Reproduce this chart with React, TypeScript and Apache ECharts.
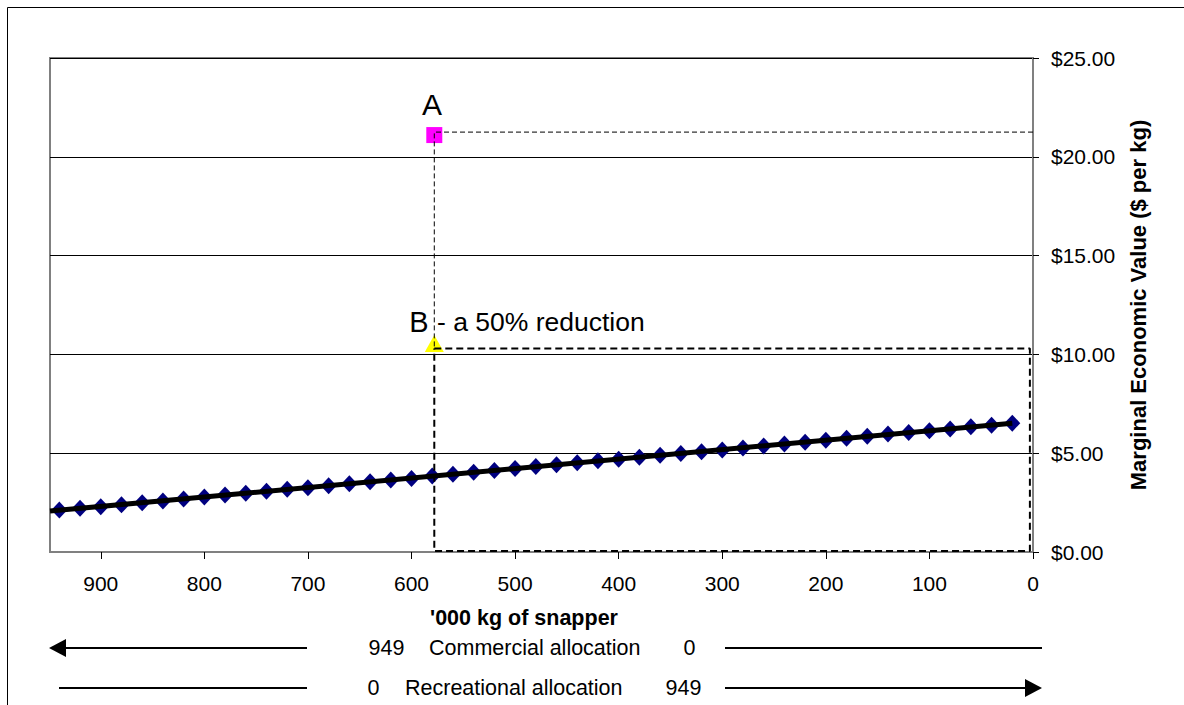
import React, { useEffect, useRef } from "react";
import * as echarts from "echarts";

// Commercial allocation ('000 kg) and marginal economic value ($ per kg)
const commercialKg = [
  940, 920, 900, 880, 860, 840, 820, 800, 780, 760, 740, 720, 700, 680, 660, 640,
  620, 600, 580, 560, 540, 520, 500, 480, 460, 440, 420, 400, 380, 360, 340,
  320, 300, 280, 260, 240, 220, 200, 180, 160, 140, 120, 100, 80, 60, 40, 20,
];
const marginalValue = [
  2.12, 2.21, 2.29, 2.39, 2.49, 2.58, 2.68, 2.78, 2.88, 2.97, 3.07, 3.17, 3.25, 3.35, 3.45, 3.55,
  3.64, 3.72, 3.84, 3.94, 4.03, 4.13, 4.23, 4.33, 4.41, 4.52, 4.62, 4.7, 4.8, 4.9, 4.99,
  5.07, 5.16, 5.26, 5.36, 5.46, 5.56, 5.66, 5.76, 5.86, 5.97, 6.05, 6.13, 6.23, 6.34, 6.42, 6.52,
];
const trendKg = [949, 20];
const trendValue = [2.07, 6.52];

const pointA = [578, 21.1];
const pointB = [578, 10.55];
const lineAValue = 21.25;
const lineBValue = 10.3;
const rectRightKg = 3;
const rectBottomValue = 0.05;

const xTicks = [0, 100, 200, 300, 400, 500, 600, 700, 800, 900];
const totalKg = 949;

const FONT = "'Liberation Sans', Arial, sans-serif";

export default function App() {
  const ref = useRef<HTMLDivElement>(null);

  useEffect(() => {
    if (!ref.current) return;
    const chart = echarts.init(ref.current, undefined, { renderer: "svg" });
    const txt = (x: number, y: number, text: string, size: number, align: string, bold = false) => ({
      type: "text",
      x,
      y,
      style: {
        text,
        fill: "#000",
        font: `${bold ? "bold " : ""}${size}px ${FONT}`,
        textAlign: align,
        textVerticalAlign: "middle",
      },
      silent: true,
    });
    const hline = (x1: number, x2: number, y: number) => ({
      type: "line",
      shape: { x1, y1: y, x2, y2: y },
      style: { stroke: "#000", lineWidth: 2 },
      silent: true,
    });

    chart.setOption({
      animation: false,
      backgroundColor: "#fff",
      grid: {
        left: 50,
        right: 151,
        top: 58,
        bottom: 153,
        show: true,
        borderColor: "#808080",
        borderWidth: 2,
      },
      xAxis: {
        type: "value",
        inverse: true,
        min: 0,
        max: totalKg,
        interval: 100,
        axisLine: { show: true, lineStyle: { color: "#808080", width: 2 } },
        axisTick: { show: true, length: 7, customValues: xTicks, lineStyle: { color: "#000", width: 1 } },
        axisLabel: { customValues: xTicks, fontSize: 21, color: "#000", margin: 21, fontFamily: FONT },
        splitLine: { show: false },
      },
      yAxis: {
        type: "value",
        position: "right",
        min: 0,
        max: 25,
        interval: 5,
        axisLine: { show: true, lineStyle: { color: "#808080", width: 2 } },
        axisTick: { show: true, length: 6, lineStyle: { color: "#000", width: 1 } },
        axisLabel: {
          formatter: (v: number) => "$" + v.toFixed(2),
          fontSize: 21,
          color: "#000",
          margin: 18,
          fontFamily: FONT,
        },
        splitLine: { show: true, lineStyle: { color: "#000", width: 1 } },
        name: "Marginal Economic Value ($ per kg)",
        nameLocation: "middle",
        nameRotate: 90,
        nameGap: 94,
        nameTextStyle: { fontSize: 22, fontWeight: "bold", color: "#000", fontFamily: FONT },
      },
      series: [
        {
          type: "scatter",
          data: commercialKg.map((k, i) => [k, marginalValue[i]]),
          symbol: "diamond",
          symbolSize: [16, 17],
          itemStyle: { color: "#000080", opacity: 1 },
          z: 2,
          silent: true,
        },
        {
          type: "line",
          data: trendKg.map((k, i) => [k, trendValue[i]]),
          showSymbol: false,
          symbol: "none",
          lineStyle: { color: "#000", width: 5, opacity: 1 },
          z: 3,
          silent: true,
        },
        {
          type: "scatter",
          data: [pointA],
          symbol: "rect",
          symbolSize: 16,
          itemStyle: { color: "#FF00FF", opacity: 1 },
          z: 4,
          silent: true,
        },
        {
          type: "scatter",
          data: [pointB],
          symbol: "triangle",
          symbolSize: [19, 17],
          itemStyle: { color: "#FFFF00", opacity: 1 },
          z: 4,
          silent: true,
        },
        {
          type: "line",
          data: [
            [0, lineAValue],
            [pointA[0], lineAValue],
            [pointA[0], lineBValue],
          ],
          symbol: "none",
          lineStyle: { color: "#000", width: 1, type: [5, 3], opacity: 1 },
          z: 5,
          silent: true,
        },
        {
          type: "line",
          data: [
            [pointB[0], lineBValue],
            [rectRightKg, lineBValue],
            [rectRightKg, rectBottomValue],
            [pointB[0], rectBottomValue],
            [pointB[0], lineBValue],
          ],
          symbol: "none",
          lineStyle: { color: "#000", width: 2, type: [7, 4], opacity: 1 },
          z: 5,
          silent: true,
        },
      ],
      graphic: [
        {
          type: "rect",
          shape: { x: 7.5, y: 7.5, width: 1200, height: 720 },
          style: { fill: "none", stroke: "#000", lineWidth: 1 },
          silent: true,
          z: -1,
        },
        txt(432, 104, "A", 30, "center"),
        txt(419, 322, "B", 29, "center"),
        txt(437, 322, "- a 50% reduction", 26.5, "left"),
        txt(524, 618, "'000 kg of snapper", 21.5, "center", true),
        // Commercial allocation row
        txt(386.5, 648, "949", 21.5, "center"),
        txt(429, 648, "Commercial allocation", 21.5, "left"),
        txt(689.5, 648, "0", 21.5, "center"),
        {
          type: "polygon",
          shape: { points: [[49, 648], [66, 639], [66, 657]] },
          style: { fill: "#000" },
          silent: true,
        },
        hline(62, 307, 648),
        hline(725, 1042, 648),
        // Recreational allocation row
        txt(373.5, 688, "0", 21.5, "center"),
        txt(405, 688, "Recreational allocation", 21.5, "left"),
        txt(683.5, 688, "949", 21.5, "center"),
        hline(59, 307, 688),
        hline(725, 1028, 688),
        {
          type: "polygon",
          shape: { points: [[1042, 688], [1025, 679], [1025, 697]] },
          style: { fill: "#000" },
          silent: true,
        },
      ],
    });
    return () => chart.dispose();
  }, []);

  return (
    <div
      ref={ref}
      style={{ position: "fixed", left: 0, top: 0, width: 1184, height: 705, background: "#fff" }}
    />
  );
}
